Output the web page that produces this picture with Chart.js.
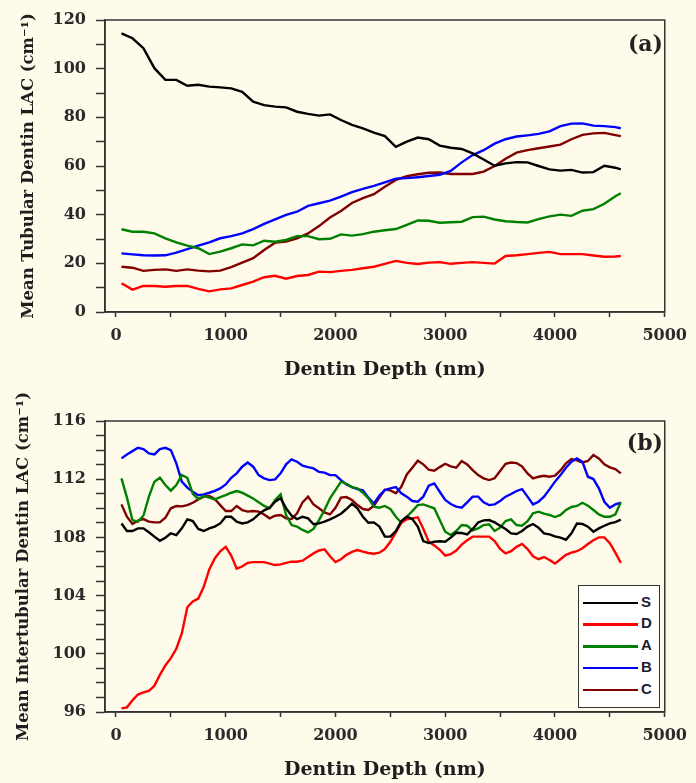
<!DOCTYPE html>
<html>
<head>
<meta charset="utf-8">
<script src="https://cdn.jsdelivr.net/npm/chart.js@4.4.0/dist/chart.umd.min.js"></script>
<style>
  html, body { margin: 0; padding: 0; background: #fefbea; overflow: hidden; }
  #wrap { position: relative; width: 696px; height: 783px; }
  canvas { position: absolute; left: 0; }
  #chartA { top: 0; }
  #chartB { top: 392px; }
  .panel { position: absolute; right: 33px; font: bold 22px 'DejaVu Serif'; line-height: 22px; color: #222; }
  #legend { position: absolute; left: 578px; top: 585px; width: 82px; height: 123px; box-sizing: border-box;
            border: 1.5px solid #333; background: #fff; }
  .row { position: absolute; left: 0; width: 100%; height: 20px; }
  .row .ln { position: absolute; left: 4px; top: 9px; width: 55px; height: 2.5px; }
  .row .lab { position: absolute; left: 62px; top: 0; line-height: 20px; font: bold 15px 'Liberation Sans'; color: #1c1c30; }
</style>
</head>
<body>
<div id="wrap">
  <canvas id="chartA" width="696" height="392"></canvas>
  <canvas id="chartB" width="696" height="391"></canvas>
  <div class="panel" style="top:32px">(a)</div>
  <div class="panel" style="top:431px">(b)</div>
  <div id="legend"></div>
</div>
<script>
// ---- data ----
const seriesNames = ['S', 'D', 'A', 'B', 'C'];
const seriesColors = ['#000000', '#ff0000', '#008000', '#0000ff', '#800000'];

// (a) tubular dentin
const depthA = [50, 150, 250, 350, 450, 550, 650, 750, 850, 950, 1050, 1150, 1250, 1350, 1450, 1550,
  1650, 1750, 1850, 1950, 2050, 2150, 2250, 2350, 2450, 2550, 2650, 2750, 2850, 2950, 3050, 3150,
  3250, 3350, 3450, 3550, 3650, 3750, 3850, 3950, 4050, 4150, 4250, 4350, 4450, 4550, 4600];
const tubS = [114.5, 112.5, 108.4, 100.2, 95.4, 95.4, 93, 93.4, 92.6, 92.3, 91.9, 90.5, 86.4, 85, 84.4, 84.1,
  82.3, 81.4, 80.7, 81.2, 78.9, 76.9, 75.5, 73.7, 72.3, 67.9, 70, 71.7, 71, 68.4, 67.5, 67,
  65.2, 62.7, 60.1, 61.1, 61.6, 61.5, 60, 58.6, 58.1, 58.4, 57.3, 57.5, 60.1, 59.3, 58.6];
const tubD = [11.8, 9.2, 10.7, 10.7, 10.4, 10.7, 10.7, 9.5, 8.5, 9.3, 9.7, 11.1, 12.5, 14.3, 14.9, 13.7,
  14.8, 15.2, 16.6, 16.4, 16.9, 17.3, 18, 18.6, 19.8, 21, 20.2, 19.7, 20.3, 20.5, 19.8, 20.2,
  20.5, 20.2, 19.9, 23, 23.3, 23.8, 24.3, 24.7, 23.8, 23.8, 23.8, 23.2, 22.7, 22.8, 23];
const tubA = [34, 33, 33, 32.3, 30.3, 28.6, 27.3, 26.2, 23.8, 24.8, 26.2, 27.8, 27.4, 29.3, 28.9, 29.6,
  31.2, 31.2, 29.9, 30.1, 31.9, 31.4, 32, 33, 33.6, 34.1, 35.8, 37.6, 37.5, 36.7, 36.9, 37.1,
  39, 39.2, 38, 37.3, 37, 36.8, 38.2, 39.3, 40, 39.5, 41.6, 42.3, 44.5, 47.6, 48.8];
const tubB = [24.1, 23.7, 23.3, 23.2, 23.3, 24.4, 25.8, 27.3, 28.6, 30.3, 31.2, 32.3, 34.1, 36.2, 38.1, 39.9,
  41.2, 43.6, 44.7, 45.8, 47.4, 49.3, 50.6, 51.8, 53.3, 54.8, 55, 55.4, 55.9, 56.4, 58, 61.5,
  64.5, 66.5, 69.2, 71, 72.1, 72.6, 73.2, 74.2, 76.4, 77.4, 77.5, 76.6, 76.4, 76, 75.5];
const tubC = [18.6, 18.2, 16.9, 17.3, 17.5, 16.9, 17.5, 17, 16.7, 17, 18.4, 20.3, 22.1, 25.5, 28.5, 28.9,
  30.3, 32.3, 35.3, 38.8, 41.5, 44.8, 46.8, 48.4, 51.5, 54.3, 55.8, 56.6, 57.2, 57.3, 56.7, 56.7,
  56.7, 57.7, 60, 63, 65.5, 66.5, 67.3, 68, 68.8, 71, 72.8, 73.4, 73.6, 72.7, 72.3];

// (b) intertubular dentin
const depthB = [50, 100, 150, 200, 250, 300, 350, 400, 450, 500, 550, 600, 650, 700, 750, 800, 850, 900, 950, 1000,
  1050, 1100, 1150, 1200, 1250, 1300, 1350, 1400, 1450, 1500, 1550, 1600, 1650, 1700, 1750, 1800, 1850, 1900, 1950, 2000,
  2050, 2100, 2150, 2200, 2250, 2300, 2350, 2400, 2450, 2500, 2550, 2600, 2650, 2700, 2750, 2800, 2850, 2900, 2950, 3000,
  3050, 3100, 3150, 3200, 3250, 3300, 3350, 3400, 3450, 3500, 3550, 3600, 3650, 3700, 3750, 3800, 3850, 3900, 3950, 4000,
  4050, 4100, 4150, 4200, 4250, 4300, 4350, 4400, 4450, 4500, 4550, 4600];
const intS = [108.96, 108.44, 108.44, 108.62, 108.62, 108.35, 108.05, 107.77, 107.98, 108.28,
  108.16, 108.62, 109.24, 109.12, 108.58, 108.44, 108.62, 108.74, 108.96, 109.42,
  109.42, 109.08, 108.96, 109.03, 109.24, 109.58, 109.86, 110.04, 110.45, 110.7,
  110.0, 109.49, 109.26, 109.42, 109.31, 108.9, 108.96, 109.08, 109.24, 109.42,
  109.63, 109.95, 110.32, 110.0, 109.42, 109.01, 109.03, 108.74, 108.05, 108.05,
  108.44, 109.12, 109.42, 109.26, 108.74, 107.75, 107.61, 107.7, 107.73, 107.7,
  107.98, 108.32, 108.3, 108.21, 108.58, 109.03, 109.17, 109.19, 109.03, 108.8,
  108.58, 108.28, 108.23, 108.44, 108.74, 108.92, 108.67, 108.28, 108.21, 108.07,
  107.98, 107.84, 108.28, 108.96, 108.92, 108.74, 108.39, 108.62, 108.8, 108.96,
  109.05, 109.22];
const intD = [96.25, 96.32, 96.8, 97.2, 97.35, 97.45, 97.8, 98.55, 99.2, 99.7,
  100.35, 101.4, 103.2, 103.6, 103.8, 104.6, 105.8, 106.55, 107.05, 107.35,
  106.75, 105.85, 106.0, 106.25, 106.3, 106.3, 106.3, 106.2, 106.1, 106.15,
  106.25, 106.33, 106.33, 106.4, 106.65, 106.9, 107.1, 107.18, 106.7, 106.3,
  106.5, 106.8, 107.0, 107.13, 107.02, 106.93, 106.88, 106.95, 107.2, 107.7,
  108.35, 109.0, 109.25, 109.31, 109.38, 108.6, 107.7, 107.45, 107.15, 106.75,
  106.85, 107.1, 107.5, 107.8, 108.05, 108.05, 108.05, 108.05, 107.75, 107.2,
  106.9, 107.05, 107.35, 107.55, 107.2, 106.7, 106.5, 106.65, 106.45, 106.2,
  106.5, 106.8, 106.95, 107.05, 107.25, 107.55, 107.8, 108.0, 108.0, 107.6,
  106.95, 106.25];
const intA = [112.06, 110.73, 109.19, 109.08, 109.49, 110.8, 111.83, 112.1, 111.6, 111.21,
  111.6, 112.28, 112.1, 111.0, 110.64, 110.84, 110.73, 110.61, 110.77, 110.91,
  111.07, 111.19, 111.07, 110.87, 110.68, 110.41, 110.16, 110.0, 110.57, 110.96,
  109.54, 108.85, 108.74, 108.51, 108.35, 108.58, 109.19, 109.88, 110.68, 111.25,
  111.83, 111.69, 111.46, 111.37, 111.07, 110.68, 110.11, 110.04, 110.16, 109.95,
  109.42, 109.01, 109.42, 109.81, 110.22, 110.27, 110.13, 110.0, 109.19, 108.39,
  108.16, 108.44, 108.85, 108.8, 108.48, 108.62, 108.85, 108.9, 108.44, 108.67,
  109.12, 109.24, 108.85, 108.8, 109.12, 109.65, 109.77, 109.63, 109.54, 109.4,
  109.54, 109.88, 110.09, 110.16, 110.38, 110.18, 109.88, 109.58, 109.42, 109.42,
  109.58, 110.41];
const intB = [113.43, 113.7, 113.93, 114.16, 114.07, 113.77, 113.7, 114.07, 114.16, 114.0,
  113.09, 111.83, 111.42, 111.14, 110.9, 110.96, 111.07, 111.2, 111.37, 111.64,
  112.1, 112.4, 112.86, 113.15, 112.86, 112.28, 112.06, 111.94, 111.99, 112.4,
  113.02, 113.36, 113.2, 112.93, 112.83, 112.74, 112.5, 112.45, 112.28, 112.28,
  111.94, 111.64, 111.46, 111.32, 111.23, 110.73, 110.32, 110.87, 111.25, 111.37,
  111.46, 111.03, 110.8, 110.5, 110.45, 110.8, 111.55, 111.71, 111.14, 110.57,
  110.29, 110.11, 110.04, 110.41, 110.8, 110.8, 110.41, 110.22, 110.27, 110.5,
  110.8, 110.98, 111.19, 111.32, 110.8, 110.27, 110.45, 110.8, 111.3, 111.83,
  112.28, 112.79, 113.2, 113.43, 113.2, 112.17, 112.01, 111.37, 110.45, 110.04,
  110.27, 110.38];
const intC = [110.27, 109.42, 108.92, 109.15, 109.26, 109.08, 109.03, 109.03, 109.35, 110.0,
  110.16, 110.13, 110.22, 110.38, 110.61, 110.8, 110.84, 110.64, 110.22, 109.81,
  109.81, 110.16, 109.88, 109.77, 109.81, 109.77, 109.58, 109.31, 109.49, 109.54,
  109.31, 109.26, 109.65, 110.41, 110.8, 110.27, 110.0, 109.72, 109.58, 110.04,
  110.73, 110.77, 110.57, 110.22, 109.95, 109.88, 110.18, 110.73, 111.28, 111.23,
  111.03, 111.48, 112.33, 112.79, 113.27, 113.02, 112.65, 112.58, 112.83, 113.06,
  112.88, 112.79, 113.25, 113.02, 112.63, 112.28, 112.06, 111.94, 112.06, 112.56,
  113.06, 113.15, 113.11, 112.88, 112.4, 112.06, 112.17, 112.24, 112.17, 112.24,
  112.6, 113.09, 113.38, 113.29, 113.15, 113.25, 113.66, 113.43, 113.02, 112.81,
  112.7, 112.4];

// ---- ticks ----
const xTicks = [0, 500, 1000, 1500, 2000, 2500, 3000, 3500, 4000, 4500, 5000];
const xTickLabels = [0, 1000, 2000, 3000, 4000, 5000];
const yTicksA = [0, 10, 20, 30, 40, 50, 60, 70, 80, 90, 100, 110, 120];
const yTickLabelsA = [0, 20, 40, 60, 80, 100, 120];
const yTicksB = [96, 97, 98, 99, 100, 101, 102, 103, 104, 105, 106, 107, 108, 109, 110, 111, 112, 113, 114, 115, 116];
const yTickLabelsB = [96, 100, 104, 108, 112, 116];

const axisColor = '#333';
const textColor = '#2a2a2a';
const serif = "'DejaVu Serif', serif";

const framePlugin = {
  id: 'frame',
  afterDraw(chart) {
    const {ctx, chartArea: a} = chart;
    ctx.save();
    ctx.strokeStyle = axisColor;
    ctx.lineWidth = 1.5;
    ctx.strokeRect(a.left, a.top, a.right - a.left, a.bottom - a.top);
    ctx.restore();
  }
};

function makeChart(id, depth, series, o) {
  const datasets = series.map((vals, i) => ({
    label: seriesNames[i],
    data: depth.map((d, j) => ({x: d, y: vals[j]})),
    borderColor: seriesColors[i],
    borderWidth: 2.4,
    pointRadius: 0,
    tension: 0,
    fill: false
  }));
  return new Chart(document.getElementById(id), {
    type: 'line',
    data: {datasets},
    options: {
      responsive: false,
      animation: false,
      devicePixelRatio: 1,
      layout: {padding: {left: 0, top: o.top, right: 25, bottom: 0}},
      plugins: {legend: {display: false}, tooltip: {enabled: false}},
      scales: {
        x: {
          type: 'linear', min: -100, max: 5000,
          afterBuildTicks: s => { s.ticks = xTicks.map(v => ({value: v})); },
          afterFit: s => { s.height = o.xh; },
          ticks: {autoSkip: false, maxRotation: 0, padding: 9, color: textColor,
                  font: {family: serif, size: 16, weight: 'bold'},
                  callback: v => xTickLabels.includes(v) ? String(v) : ''},
          grid: {drawOnChartArea: false, tickLength: 5, tickColor: axisColor, tickWidth: 1.5},
          border: {color: axisColor, width: 1.5},
          title: {display: true, text: 'Dentin Depth (nm)', color: '#1e1e1e',
                  font: {family: serif, size: 19, weight: 'bold'}, padding: {top: 0, bottom: o.xtp}}
        },
        y: {
          min: o.ymin, max: o.ymax,
          afterBuildTicks: s => { s.ticks = o.yTicks.map(v => ({value: v})); },
          afterFit: s => { s.width = 105; },
          ticks: {autoSkip: false, padding: 10, color: textColor,
                  font: {family: serif, size: 16, weight: 'bold'},
                  callback: v => o.yLabels.includes(v) ? String(v) : ''},
          grid: {drawOnChartArea: false, tickLength: 9, tickColor: axisColor, tickWidth: 1.5},
          border: {color: axisColor, width: 1.5},
          title: {display: true, text: o.ytitle, color: '#1e1e1e',
                  font: {family: serif, size: 16.5, weight: 'bold'}, padding: {top: o.ytp, bottom: 0}}
        }
      }
    },
    plugins: [framePlugin]
  });
}

makeChart('chartA', depthA, [tubS, tubD, tubA, tubB, tubC], {
  top: 20, xh: 80, xtp: 11, ymin: 0, ymax: 120, yTicks: yTicksA, yLabels: yTickLabelsA,
  ytitle: 'Mean Tubular Dentin LAC (cm\u207B\u00B9)', ytp: 19
});
makeChart('chartB', depthB, [intS, intD, intA, intB, intC], {
  top: 29, xh: 71, xtp: 2, ymin: 96, ymax: 116, yTicks: yTicksB, yLabels: yTickLabelsB,
  ytitle: 'Mean Intertubular Dentin LAC (cm\u207B\u00B9)', ytp: 14
});

// legend box for panel (b)
const legend = document.getElementById('legend');
seriesNames.forEach((name, i) => {
  const row = document.createElement('div');
  row.className = 'row';
  row.style.top = (6.5 + i * 21.8) + 'px';
  const ln = document.createElement('span');
  ln.className = 'ln';
  ln.style.background = seriesColors[i];
  const lab = document.createElement('span');
  lab.className = 'lab';
  lab.textContent = name;
  row.appendChild(ln);
  row.appendChild(lab);
  legend.appendChild(row);
});
</script>
</body>
</html>
